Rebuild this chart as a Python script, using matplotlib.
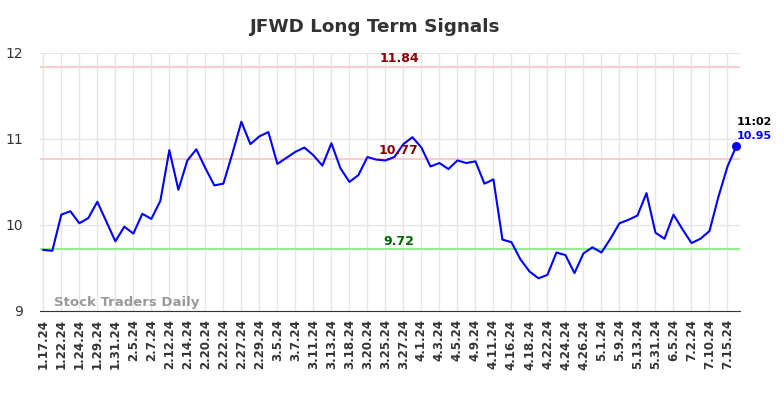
import matplotlib.pyplot as plt
import numpy as np

dates = ['1.17.24', '1.22.24', '1.24.24', '1.29.24', '1.31.24', '2.5.24', '2.7.24', '2.12.24',
         '2.14.24', '2.20.24', '2.22.24', '2.27.24', '2.29.24', '3.5.24', '3.7.24', '3.11.24',
         '3.13.24', '3.18.24', '3.20.24', '3.25.24', '3.27.24', '4.1.24', '4.3.24', '4.5.24',
         '4.9.24', '4.11.24', '4.16.24', '4.18.24', '4.22.24', '4.24.24', '4.26.24', '5.1.24',
         '5.9.24', '5.13.24', '5.31.24', '6.5.24', '7.2.24', '7.10.24', '7.15.24']
prices = [9.71, 9.70, 10.12, 10.16, 10.02, 10.08, 10.27, 10.04, 9.81, 9.98,
          9.90, 10.13, 10.07, 10.28, 10.87, 10.41, 10.75, 10.88, 10.66, 10.46,
          10.48, 10.83, 11.20, 10.94, 11.03, 11.08, 10.71, 10.78, 10.85, 10.90,
          10.81, 10.69, 10.95, 10.66, 10.50, 10.58, 10.79, 10.76, 10.75, 10.79,
          10.94, 11.02, 10.90, 10.68, 10.72, 10.65, 10.75, 10.72, 10.74, 10.48,
          10.53, 9.83, 9.80, 9.60, 9.46, 9.38, 9.42, 9.68, 9.65, 9.44,
          9.67, 9.74, 9.68, 9.84, 10.02, 10.06, 10.11, 10.37, 9.91, 9.84,
          10.12, 9.95, 9.79, 9.84, 9.93, 10.33, 10.68, 10.92]
upper = 11.84
middle = 10.77
lower = 9.72
last_time = '11:02'
last_label = '10.95'

x = np.arange(len(prices))

fig = plt.figure(figsize=(7.84, 3.98), dpi=100)
ax = fig.add_axes([0.051, 0.2186, 0.893, 0.6484])

ax.axhline(upper, color='#ffcccc', lw=1.5, zorder=1)
ax.axhline(middle, color='#ffcccc', lw=1.5, zorder=1)
ax.axhline(lower, color='#90ee90', lw=1.5, zorder=1)

ax.plot(x, prices, color='blue', lw=1.5, zorder=3)
ax.scatter(x[-1], prices[-1], color='blue', s=30, zorder=4)

mid = 39.5
ax.text(mid, upper + 0.09, f'{upper:.2f}', color='#8b0000', fontsize=9, fontweight='bold', ha='center', va='center')
ax.text(mid, middle + 0.09, f'{middle:.2f}', color='#8b0000', fontsize=9, fontweight='bold', ha='center', va='center')
ax.text(mid, lower + 0.09, f'{lower:.2f}', color='#006400', fontsize=9, fontweight='bold', ha='center', va='center')

ax.annotate(last_time, xy=(x[-1], prices[-1]), xytext=(0, 17), textcoords='offset points',
            fontsize=8, fontweight='bold', color='black', ha='left', va='center')
ax.annotate(last_label, xy=(x[-1], prices[-1]), xytext=(0, 7), textcoords='offset points',
            fontsize=8, fontweight='bold', color='blue', ha='left', va='center')

ax.text(1.2, 9.1, 'Stock Traders Daily', color='#999999', fontsize=9.5, fontweight='bold',
        ha='left', va='center', zorder=2)

ax.set_xlim(-0.37, 77.4)
ax.set_ylim(9, 12)
ax.set_yticks([9, 10, 11, 12])
ax.set_xticks(x[::2])
ax.set_xticklabels(dates, rotation=90, fontsize=8.5, fontweight='bold', color='#333333')
ax.tick_params(axis='y', length=0, labelsize=10, colors='#333333', pad=12)
ax.tick_params(axis='x', length=0, pad=6)
ax.grid(True, color='#e6e6e6', lw=1)
ax.set_axisbelow(True)
for s in ['top', 'right', 'left']:
    ax.spines[s].set_visible(False)
ax.spines['bottom'].set_color('#333333')

fig.suptitle('JFWD Long Term Signals', x=0.477, y=0.955, fontsize=13.2, fontweight='bold', color='#333333')

fig.savefig('out.png', dpi=100)
